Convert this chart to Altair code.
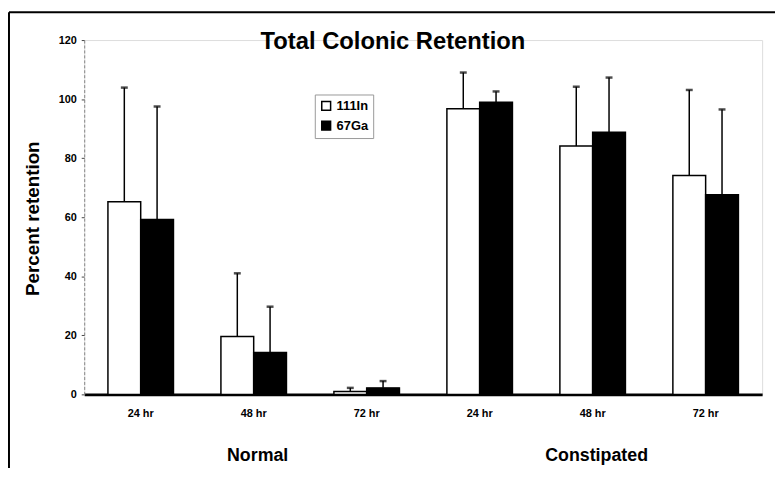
import altair as alt
import pandas as pd

# ---- data ----
groups = ["Normal", "Normal", "Normal", "Constipated", "Constipated", "Constipated"]
times = ["24 hr", "48 hr", "72 hr", "24 hr", "48 hr", "72 hr"]
isotopes = ["111In", "67Ga"]
in111_mean = [65.2, 19.6, 1.0, 96.7, 84.1, 74.1]
in111_sd = [38.7, 21.4, 1.2, 12.3, 20.1, 29.0]
ga67_mean = [59.2, 14.2, 2.2, 98.9, 88.8, 67.6]
ga67_sd = [38.3, 15.5, 2.3, 3.7, 18.5, 28.9]
group_names = ["Normal", "Constipated"]
title_text = ["Total Colonic Retention"]

slots = [f"{g}|{t}" for g, t in zip(groups, times)]
rows = []
for i, s in enumerate(slots):
    rows.append({"slot": s, "iso": "111In", "value": in111_mean[i], "top": in111_mean[i] + in111_sd[i]})
    rows.append({"slot": s, "iso": "67Ga", "value": ga67_mean[i], "top": ga67_mean[i] + ga67_sd[i]})
df = pd.DataFrame(rows)

FONT = "Liberation Sans"

xenc = alt.X("slot:N", sort=slots,
             scale=alt.Scale(paddingInner=0.42, paddingOuter=0.21),
             axis=alt.Axis(title=None, labelExpr="split(datum.value, '|')[1]",
                           labelAngle=0, ticks=False, labelPadding=13,
                           labelFont=FONT, labelFontSize=11, labelFontWeight="bold",
                           labelColor="black", domainColor="black", domainWidth=3))
xoff = alt.XOffset("iso:N", sort=isotopes)
yscale = alt.Scale(domain=[0, 120])
yaxis = alt.Axis(title="Percent retention", values=[0, 20, 40, 60, 80, 100, 120],
                 grid=False, tickSize=3, tickColor="#444", labelPadding=5,
                 labelFont=FONT, labelFontSize=11, labelFontWeight="bold", labelColor="black",
                 domainColor="#888", domainDash=[3, 2], domainWidth=1,
                 titleFont=FONT, titleFontSize=19, titleFontWeight="bold", titleColor="black",
                 titleX=-52, titleY=180, titleAngle=-90, titleAlign="center",
                 titleBaseline="middle")

base = alt.Chart(df)

bars = base.mark_bar(stroke="black", strokeWidth=1.5).encode(
    x=xenc, xOffset=xoff,
    y=alt.Y("value:Q", scale=yscale, axis=yaxis),
    fill=alt.Fill("iso:N", sort=isotopes,
                  scale=alt.Scale(domain=isotopes, range=["white", "black"]),
                  legend=alt.Legend(title=None, orient="none", legendX=233, legendY=55,
                                    symbolType="square", symbolSize=80,
                                    symbolStrokeColor="black", symbolStrokeWidth=1.5,
                                    labelFont=FONT, labelFontSize=13, labelFontWeight="bold",
                                    labelColor="black", rowPadding=5, padding=5,
                                    strokeColor="#999")),
)

err = base.mark_rule(color="black", strokeWidth=1.5).encode(
    x=xenc, xOffset=xoff, y=alt.Y("value:Q", scale=yscale), y2="top:Q")
caps = base.mark_tick(color="black", size=7, thickness=2.5).encode(
    x=xenc, xOffset=xoff, y=alt.Y("top:Q", scale=yscale))

title = alt.Chart(pd.DataFrame({"t": title_text})).mark_text(
    font=FONT, fontSize=24, fontWeight="bold", color="black", baseline="alphabetic",
    align="center").encode(text="t:N", x=alt.value(312), y=alt.value(9))

glabels = alt.Chart(pd.DataFrame({"g": group_names, "slot": ["Normal|48 hr", "Constipated|48 hr"]})).mark_text(
    font=FONT, fontSize=18, fontWeight="bold", color="black", baseline="middle", dx=4).encode(
    x=alt.X("slot:N", sort=slots), text="g:N", y=alt.value(420))

frame_top = alt.Chart(pd.DataFrame({"a": [0]})).mark_rule(color="black", strokeWidth=2).encode(
    x=alt.value(-76), x2=alt.value(710), y=alt.value(-28))
frame_left = alt.Chart(pd.DataFrame({"a": [0]})).mark_rule(color="black", strokeWidth=2).encode(
    x=alt.value(-76), y=alt.value(-28), y2=alt.value(440))

chart = alt.layer(frame_top, frame_left, bars, err, caps, title, glabels).properties(
    width=685, height=358,
    autosize=alt.AutoSizeParams(type="none"),
    padding={"left": 77, "top": 30, "right": 13, "bottom": 72},
).configure_view(stroke=None).configure(background="white")

chart.save("out.html", embed_options={"renderer": "svg", "actions": False})
